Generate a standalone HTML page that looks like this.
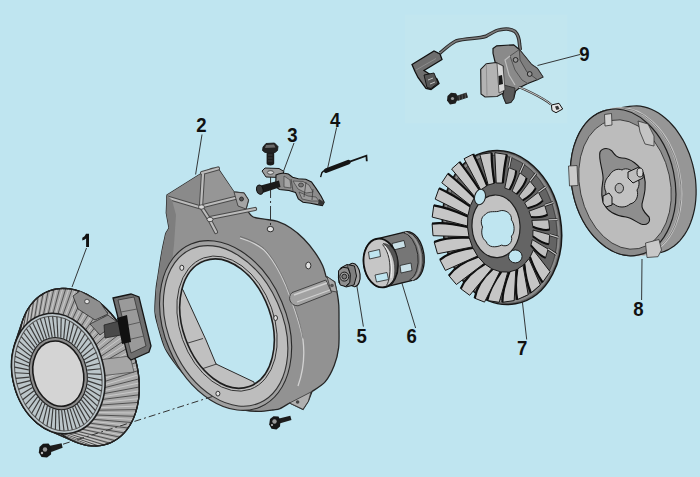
<!DOCTYPE html>
<html><head><meta charset="utf-8"><style>html,body{margin:0;padding:0;background:#bfe5f0;}svg{display:block;}</style></head>
<body>
<svg width="700" height="477" viewBox="0 0 700 477"><rect width="700" height="477" fill="#bfe5f0"/><rect x="405" y="14.5" width="162.5" height="109" fill="#c2e6ef"/>
<path d="M167 195 L202 173 L212 168.5 L218 168.5 L234 192 L244 193 L248.5 200 L246 209 C246.5 209.6 247.6 211.3 248.8 212.6 C250.0 213.9 250.6 215.9 253.2 217.0 C255.8 218.1 260.2 218.5 264.2 219.2 C268.2 219.9 273.0 219.9 277.4 221.4 C281.8 222.9 286.3 225.1 290.7 228.0 C295.1 230.9 299.9 234.9 303.9 239.0 C307.9 243.1 311.8 247.9 314.9 252.3 C318.0 256.7 320.8 261.5 322.6 265.5 C324.5 269.5 325.4 274.7 326.0 276.5 L334.7 282 L337 292 C337.3 294.2 338.5 299.5 338.8 305.0 C339.1 310.5 339.0 317.9 339.0 325.0 C339.0 332.1 339.4 341.0 338.6 347.8 C337.8 354.6 336.4 360.0 334.2 365.6 C332.0 371.2 329.0 377.4 325.3 381.7 C321.6 386.0 314.2 389.9 312.0 391.5 L308.3 401.3 L303 409.3 L289.6 403 C288.0 403.9 282.8 407.4 280.0 408.6 C277.2 409.8 276.5 409.5 272.9 410.0 C269.3 410.5 263.4 411.4 258.6 411.4 C253.8 411.4 249.1 410.9 244.3 410.0 C239.5 409.1 234.3 407.4 230.0 405.7 C225.7 404.0 222.2 401.9 218.6 400.0 C215.0 398.1 211.9 396.7 208.6 394.3 C205.3 391.9 202.2 388.6 198.6 385.7 C195.0 382.8 190.6 380.3 187.0 377.0 C183.4 373.7 180.7 370.8 177.0 366.0 C173.3 361.2 168.2 354.7 165.0 348.0 C161.8 341.3 159.7 332.0 158.0 326.0 C156.3 320.0 155.3 318.0 155.0 312.0 C154.7 306.0 155.5 296.0 156.0 290.0 C156.5 284.0 157.0 282.5 158.0 276.0 C159.0 269.5 160.7 258.1 162.0 251.0 C163.3 243.9 165.1 236.5 165.7 233.6 L169 228 L166.3 213 Z" fill="#929292" stroke="#262626" stroke-width="1.3"/>
<path d="M167 195 L202 173 L203.5 206 L198.4 207 L168 197.7 Z" fill="#8a8a8a"/>
<path d="M203.5 174 L218 168.5 L234 192 L236 197.7 L200 207 Z" fill="#969696"/>
<path d="M200 207 L236 197.7 L244 201 L246 209 L209 217 Z" fill="#8c8c8c"/>
<path d="M203 174 L201 206.5 L209.7 220 L216 232" fill="none" stroke="#4a4a4a" stroke-width="4.2" stroke-linejoin="round" stroke-linecap="round"/>
<path d="M168 197.7 L199 207" fill="none" stroke="#4a4a4a" stroke-width="4.2" stroke-linejoin="round" stroke-linecap="round"/>
<path d="M203 206 L236 197.7" fill="none" stroke="#4a4a4a" stroke-width="4.2" stroke-linejoin="round" stroke-linecap="round"/>
<path d="M210 218 L255 209" fill="none" stroke="#4a4a4a" stroke-width="4.2" stroke-linejoin="round" stroke-linecap="round"/>
<path d="M202 173 L218 168.5" fill="none" stroke="#4a4a4a" stroke-width="4.2" stroke-linejoin="round" stroke-linecap="round"/>
<path d="M203 174 L201 206.5 L209.7 220 L216 232" fill="none" stroke="#bcbcbc" stroke-width="2.2" stroke-linejoin="round" stroke-linecap="round"/>
<path d="M168 197.7 L199 207" fill="none" stroke="#bcbcbc" stroke-width="2.2" stroke-linejoin="round" stroke-linecap="round"/>
<path d="M203 206 L236 197.7" fill="none" stroke="#bcbcbc" stroke-width="2.2" stroke-linejoin="round" stroke-linecap="round"/>
<path d="M210 218 L255 209" fill="none" stroke="#bcbcbc" stroke-width="2.2" stroke-linejoin="round" stroke-linecap="round"/>
<path d="M202 173 L218 168.5" fill="none" stroke="#bcbcbc" stroke-width="2.2" stroke-linejoin="round" stroke-linecap="round"/>
<ellipse cx="201.5" cy="207" rx="3" ry="2.2" fill="#d8d8d8" stroke="#333" stroke-width="0.8"/>
<ellipse cx="210" cy="219.5" rx="3" ry="2.2" fill="#d8d8d8" stroke="#333" stroke-width="0.8"/>
<path d="M167 195 L166.3 213 L169 228 L165.7 233.6 L162 251 L158 276 L156 290 L155 312 L158 326 L165 348 L177 366 L183 372 L176 350 L170 320 L170 280 L174 245 L176 215 L172 200 Z" fill="#7e7e7e"/>
<path d="M234 192 L244 193 L248.5 200 L246 209 L238 206 Z" fill="#a4a4a4" stroke="#333" stroke-width="0.8"/>
<circle cx="241.5" cy="199" r="2" fill="#555" stroke="#222" stroke-width="0.8"/>
<path d="M240 238 C250 241 258 245 264 250 C272 258 280 272 286 286 C293 304 300 322 303 340 C305 356 303 372 298 386" fill="none" stroke="#d2d2d2" stroke-width="1.3"/>
<path d="M240 236.5 C250 239.5 258 243.5 264 248.5 C272 256.5 280 270.5 286 284.5 C293 302.5 300 320.5 303 338.5" fill="none" stroke="#555" stroke-width="0.6"/>
<ellipse cx="225.6" cy="325.5" rx="61.0" ry="88.5" transform="rotate(-23 225.6 325.5)" fill="#a0a0a0" stroke="#2a2a2a" stroke-width="1.1"/>
<ellipse cx="225.6" cy="325.9" rx="56.8" ry="84.2" transform="rotate(-24 225.6 325.9)" fill="#bdbdbd" stroke="#333" stroke-width="1.1"/>
<ellipse cx="227.0" cy="323.6" rx="47.2" ry="69.7" transform="rotate(-19.5 227.0 323.6)" fill="none" stroke="#333" stroke-width="0.9"/>
<clipPath id="op"><ellipse cx="227" cy="323.6" rx="44.2" ry="66.7" transform="rotate(-19.5 227 323.6)"/></clipPath>
<ellipse cx="227" cy="323.6" rx="44.2" ry="66.7" transform="rotate(-19.5 227 323.6)" fill="#bfe5f0"/>
<g clip-path="url(#op)"><path d="M150 250 L183 290 L206 340 L216 364 L254 382 L262 430 L150 430 Z" fill="#c0c0c0" stroke="#2a2a2a" stroke-width="1"/><path d="M188 343 L203 338.5 M202.5 368.7 L216.6 364" stroke="#333" stroke-width="0.9"/></g>
<ellipse cx="227" cy="323.6" rx="44.2" ry="66.7" transform="rotate(-19.5 227 323.6)" fill="none" stroke="#1e1e1e" stroke-width="1.6"/>
<ellipse cx="181.8" cy="267.8" rx="2" ry="2.6" fill="#e2e2e2" stroke="#222" stroke-width="0.9"/>
<ellipse cx="275.6" cy="318" rx="1.9" ry="2.5" fill="#e2e2e2" stroke="#222" stroke-width="0.9"/>
<ellipse cx="217.9" cy="393.6" rx="2" ry="2.4" fill="#e2e2e2" stroke="#222" stroke-width="0.9"/>
<ellipse cx="270.4" cy="229.1" rx="3.2" ry="2.7" fill="#e2e2e2" stroke="#222" stroke-width="0.9"/>
<ellipse cx="308.3" cy="265.5" rx="2.6" ry="3.4" fill="#e2e2e2" stroke="#222" stroke-width="0.9"/>
<path d="M292 292.6 L325.8 280 L331.7 292.6 L298 305.8 C290 306 287 297 292 292.6 Z" fill="#a2a2a2" stroke="#3a3a3a" stroke-width="0.9"/>
<path d="M294 295 L327 283" stroke="#d0d0d0" stroke-width="1.4"/>
<path d="M297 302 L330 290" stroke="#d0d0d0" stroke-width="1.2"/>
<path d="M327 276.5 L334.7 282 L337 292 L331 291 Z" fill="#a8a8a8" stroke="#333" stroke-width="0.8"/>
<circle cx="332" cy="285.5" r="1.8" fill="#555"/>
<path d="M289.6 403 L311 392 L308.3 401.3 L303 409.3 Z" fill="#b0b0b0" stroke="#333" stroke-width="0.8"/>
<circle cx="297.6" cy="402" r="1.8" fill="#444"/>
<path d="M11.6 363.8 L11.8 359.6 L12.2 355.6 L12.9 351.6 L13.8 347.8 L14.8 344.0 L22.7 320.3 L24.4 316.0 L26.3 311.9 L28.5 308.2 L31.0 304.7 L33.6 301.5 L36.5 298.6 L39.6 296.1 L43.0 293.9 L46.4 292.0 L50.0 290.6 L53.8 289.5 L57.7 288.8 L61.7 288.4 L65.8 288.5 L69.9 288.9 L74.1 289.7 L78.3 290.9 L82.5 292.5 L86.8 294.4 L90.9 296.7 L95.0 299.3 L99.0 302.3 L103.0 305.6 L106.8 309.1 L110.4 313.0 L113.9 317.1 L117.3 321.5 L120.4 326.1 L123.4 330.9 L126.1 335.8 L128.7 340.9 L130.9 346.2 L132.9 351.5 L134.7 357.0 L136.2 362.4 L137.4 367.9 L138.3 373.4 L138.9 378.9 L139.2 384.3 L139.3 389.6 L139.0 394.8 L138.5 399.9 L137.6 404.8 L136.5 409.6 L135.1 414.1 L133.4 418.4 L131.5 422.5 L129.3 426.2 L126.8 429.7 L124.2 432.9 L121.2 435.8 L118.2 438.3 L114.8 440.5 L111.4 442.4 L107.8 443.8 L104.0 444.9 L100.1 445.6 L96.1 446.0 L92.0 445.9 L87.9 445.5 L83.7 444.7 L79.5 443.5 L75.2 441.9 L48.9 430.4 L45.7 428.9 L42.6 427.1 L39.6 425.0 L36.6 422.7 L33.8 420.1 L31.1 417.3 L28.5 414.3 L26.1 411.1 L23.8 407.8 L21.7 404.2 L19.7 400.5 L18.0 396.7 L16.4 392.8 L15.1 388.8 L14.0 384.7 L13.0 380.5 L12.3 376.3 L11.9 372.1 L11.6 367.9 Z" fill="#a8a8a8" stroke="#222" stroke-width="1.3"/>
<line x1="102.6" y1="362.5" x2="130.9" y2="346.2" stroke="#3a3a3a" stroke-width="0.8"/>
<line x1="103.4" y1="365.7" x2="132.4" y2="350.2" stroke="#d0d0d0" stroke-width="0.8"/>
<line x1="103.9" y1="368.8" x2="133.8" y2="354.2" stroke="#3a3a3a" stroke-width="0.8"/>
<line x1="104.4" y1="371.9" x2="135.1" y2="358.3" stroke="#d0d0d0" stroke-width="0.8"/>
<line x1="104.7" y1="375.1" x2="136.2" y2="362.4" stroke="#3a3a3a" stroke-width="0.8"/>
<line x1="105.0" y1="378.2" x2="137.1" y2="366.6" stroke="#d0d0d0" stroke-width="0.8"/>
<line x1="105.0" y1="381.4" x2="137.8" y2="370.7" stroke="#3a3a3a" stroke-width="0.8"/>
<line x1="105.0" y1="384.5" x2="138.5" y2="374.8" stroke="#d0d0d0" stroke-width="0.8"/>
<line x1="104.8" y1="387.6" x2="138.9" y2="378.9" stroke="#3a3a3a" stroke-width="0.8"/>
<line x1="104.5" y1="390.6" x2="139.2" y2="382.9" stroke="#d0d0d0" stroke-width="0.8"/>
<line x1="104.1" y1="393.6" x2="139.3" y2="387.0" stroke="#3a3a3a" stroke-width="0.8"/>
<line x1="103.5" y1="396.6" x2="139.2" y2="390.9" stroke="#d0d0d0" stroke-width="0.8"/>
<line x1="102.8" y1="399.4" x2="139.0" y2="394.8" stroke="#3a3a3a" stroke-width="0.8"/>
<line x1="102.0" y1="402.3" x2="138.6" y2="398.7" stroke="#d0d0d0" stroke-width="0.8"/>
<line x1="101.1" y1="405.0" x2="138.1" y2="402.4" stroke="#3a3a3a" stroke-width="0.8"/>
<line x1="100.1" y1="407.6" x2="137.4" y2="406.0" stroke="#d0d0d0" stroke-width="0.8"/>
<line x1="98.9" y1="410.2" x2="136.5" y2="409.6" stroke="#3a3a3a" stroke-width="0.8"/>
<line x1="97.7" y1="412.6" x2="135.5" y2="413.0" stroke="#d0d0d0" stroke-width="0.8"/>
<line x1="96.3" y1="415.0" x2="134.3" y2="416.3" stroke="#3a3a3a" stroke-width="0.8"/>
<line x1="94.8" y1="417.2" x2="133.0" y2="419.4" stroke="#d0d0d0" stroke-width="0.8"/>
<line x1="93.3" y1="419.3" x2="131.5" y2="422.5" stroke="#3a3a3a" stroke-width="0.8"/>
<line x1="91.6" y1="421.3" x2="129.9" y2="425.3" stroke="#d0d0d0" stroke-width="0.8"/>
<line x1="89.8" y1="423.2" x2="128.1" y2="428.0" stroke="#3a3a3a" stroke-width="0.8"/>
<line x1="88.0" y1="424.9" x2="126.2" y2="430.6" stroke="#d0d0d0" stroke-width="0.8"/>
<line x1="86.0" y1="426.5" x2="124.2" y2="432.9" stroke="#3a3a3a" stroke-width="0.8"/>
<line x1="84.0" y1="427.9" x2="122.0" y2="435.1" stroke="#d0d0d0" stroke-width="0.8"/>
<line x1="82.0" y1="429.2" x2="119.7" y2="437.1" stroke="#3a3a3a" stroke-width="0.8"/>
<line x1="79.8" y1="430.3" x2="117.3" y2="438.9" stroke="#d0d0d0" stroke-width="0.8"/>
<line x1="77.6" y1="431.3" x2="114.8" y2="440.5" stroke="#3a3a3a" stroke-width="0.8"/>
<line x1="75.4" y1="432.1" x2="112.3" y2="441.9" stroke="#d0d0d0" stroke-width="0.8"/>
<line x1="73.1" y1="432.8" x2="109.6" y2="443.1" stroke="#3a3a3a" stroke-width="0.8"/>
<line x1="70.7" y1="433.3" x2="106.8" y2="444.1" stroke="#d0d0d0" stroke-width="0.8"/>
<line x1="68.3" y1="433.6" x2="104.0" y2="444.9" stroke="#3a3a3a" stroke-width="0.8"/>
<line x1="65.9" y1="433.8" x2="101.1" y2="445.5" stroke="#d0d0d0" stroke-width="0.8"/>
<line x1="63.5" y1="433.8" x2="98.1" y2="445.8" stroke="#3a3a3a" stroke-width="0.8"/>
<line x1="61.1" y1="433.6" x2="95.1" y2="446.0" stroke="#d0d0d0" stroke-width="0.8"/>
<line x1="58.6" y1="433.3" x2="92.0" y2="445.9" stroke="#3a3a3a" stroke-width="0.8"/>
<line x1="56.2" y1="432.8" x2="88.9" y2="445.6" stroke="#d0d0d0" stroke-width="0.8"/>
<line x1="53.7" y1="432.2" x2="85.8" y2="445.1" stroke="#3a3a3a" stroke-width="0.8"/>
<line x1="51.3" y1="431.4" x2="82.6" y2="444.4" stroke="#d0d0d0" stroke-width="0.8"/>
<line x1="48.9" y1="430.4" x2="79.5" y2="443.5" stroke="#3a3a3a" stroke-width="0.8"/>
<line x1="46.5" y1="429.3" x2="76.3" y2="442.3" stroke="#d0d0d0" stroke-width="0.8"/>
<line x1="44.2" y1="428.0" x2="73.1" y2="441.0" stroke="#3a3a3a" stroke-width="0.8"/>
<line x1="41.9" y1="426.6" x2="70.0" y2="439.4" stroke="#d0d0d0" stroke-width="0.8"/>
<line x1="39.6" y1="425.0" x2="66.9" y2="437.7" stroke="#3a3a3a" stroke-width="0.8"/>
<line x1="37.4" y1="423.3" x2="63.8" y2="435.8" stroke="#d0d0d0" stroke-width="0.8"/>
<line x1="35.2" y1="421.4" x2="60.8" y2="433.6" stroke="#3a3a3a" stroke-width="0.8"/>
<line x1="33.1" y1="419.4" x2="57.8" y2="431.3" stroke="#d0d0d0" stroke-width="0.8"/>
<line x1="31.1" y1="417.3" x2="54.9" y2="428.8" stroke="#3a3a3a" stroke-width="0.8"/>
<line x1="29.1" y1="415.1" x2="52.0" y2="426.2" stroke="#d0d0d0" stroke-width="0.8"/>
<line x1="27.3" y1="412.8" x2="49.2" y2="423.4" stroke="#3a3a3a" stroke-width="0.8"/>
<line x1="25.5" y1="410.3" x2="46.5" y2="420.4" stroke="#d0d0d0" stroke-width="0.8"/>
<line x1="23.8" y1="407.8" x2="43.9" y2="417.3" stroke="#3a3a3a" stroke-width="0.8"/>
<line x1="22.2" y1="405.1" x2="41.3" y2="414.0" stroke="#d0d0d0" stroke-width="0.8"/>
<line x1="20.7" y1="402.4" x2="38.9" y2="410.7" stroke="#3a3a3a" stroke-width="0.8"/>
<line x1="19.3" y1="399.6" x2="36.6" y2="407.2" stroke="#d0d0d0" stroke-width="0.8"/>
<line x1="18.0" y1="396.7" x2="34.4" y2="403.5" stroke="#3a3a3a" stroke-width="0.8"/>
<line x1="16.8" y1="393.8" x2="32.3" y2="399.8" stroke="#d0d0d0" stroke-width="0.8"/>
<line x1="15.7" y1="390.8" x2="30.4" y2="396.0" stroke="#3a3a3a" stroke-width="0.8"/>
<line x1="14.8" y1="387.7" x2="28.6" y2="392.2" stroke="#d0d0d0" stroke-width="0.8"/>
<line x1="14.0" y1="384.7" x2="26.9" y2="388.2" stroke="#3a3a3a" stroke-width="0.8"/>
<line x1="13.2" y1="381.5" x2="25.4" y2="384.2" stroke="#d0d0d0" stroke-width="0.8"/>
<line x1="12.7" y1="378.4" x2="24.0" y2="380.2" stroke="#3a3a3a" stroke-width="0.8"/>
<line x1="12.2" y1="375.3" x2="22.7" y2="376.1" stroke="#d0d0d0" stroke-width="0.8"/>
<line x1="11.9" y1="372.1" x2="21.6" y2="372.0" stroke="#3a3a3a" stroke-width="0.8"/>
<line x1="11.6" y1="369.0" x2="20.7" y2="367.8" stroke="#d0d0d0" stroke-width="0.8"/>
<line x1="11.6" y1="365.8" x2="20.0" y2="363.7" stroke="#3a3a3a" stroke-width="0.8"/>
<line x1="11.6" y1="362.7" x2="19.3" y2="359.6" stroke="#d0d0d0" stroke-width="0.8"/>
<line x1="11.8" y1="359.6" x2="18.9" y2="355.5" stroke="#3a3a3a" stroke-width="0.8"/>
<line x1="12.1" y1="356.6" x2="18.6" y2="351.5" stroke="#d0d0d0" stroke-width="0.8"/>
<line x1="12.5" y1="353.6" x2="18.5" y2="347.4" stroke="#3a3a3a" stroke-width="0.8"/>
<line x1="13.1" y1="350.6" x2="18.6" y2="343.5" stroke="#d0d0d0" stroke-width="0.8"/>
<line x1="13.8" y1="347.8" x2="18.8" y2="339.6" stroke="#3a3a3a" stroke-width="0.8"/>
<line x1="14.6" y1="344.9" x2="19.2" y2="335.7" stroke="#d0d0d0" stroke-width="0.8"/>
<line x1="15.5" y1="342.2" x2="19.7" y2="332.0" stroke="#3a3a3a" stroke-width="0.8"/>
<line x1="16.5" y1="339.6" x2="20.4" y2="328.4" stroke="#d0d0d0" stroke-width="0.8"/>
<line x1="17.7" y1="337.0" x2="21.3" y2="324.8" stroke="#3a3a3a" stroke-width="0.8"/>
<line x1="18.9" y1="334.6" x2="22.3" y2="321.4" stroke="#d0d0d0" stroke-width="0.8"/>
<line x1="20.3" y1="332.2" x2="23.5" y2="318.1" stroke="#3a3a3a" stroke-width="0.8"/>
<line x1="21.8" y1="330.0" x2="24.8" y2="315.0" stroke="#d0d0d0" stroke-width="0.8"/>
<line x1="23.3" y1="327.9" x2="26.3" y2="311.9" stroke="#3a3a3a" stroke-width="0.8"/>
<line x1="25.0" y1="325.9" x2="27.9" y2="309.1" stroke="#d0d0d0" stroke-width="0.8"/>
<line x1="26.8" y1="324.0" x2="29.7" y2="306.4" stroke="#3a3a3a" stroke-width="0.8"/>
<line x1="28.6" y1="322.3" x2="31.6" y2="303.8" stroke="#d0d0d0" stroke-width="0.8"/>
<line x1="30.6" y1="320.7" x2="33.6" y2="301.5" stroke="#3a3a3a" stroke-width="0.8"/>
<line x1="32.6" y1="319.3" x2="35.8" y2="299.3" stroke="#d0d0d0" stroke-width="0.8"/>
<line x1="34.6" y1="318.0" x2="38.1" y2="297.3" stroke="#3a3a3a" stroke-width="0.8"/>
<line x1="36.8" y1="316.9" x2="40.5" y2="295.5" stroke="#d0d0d0" stroke-width="0.8"/>
<line x1="39.0" y1="315.9" x2="43.0" y2="293.9" stroke="#3a3a3a" stroke-width="0.8"/>
<line x1="41.2" y1="315.1" x2="45.5" y2="292.5" stroke="#d0d0d0" stroke-width="0.8"/>
<line x1="43.5" y1="314.4" x2="48.2" y2="291.3" stroke="#3a3a3a" stroke-width="0.8"/>
<line x1="45.9" y1="313.9" x2="51.0" y2="290.3" stroke="#d0d0d0" stroke-width="0.8"/>
<line x1="48.3" y1="313.6" x2="53.8" y2="289.5" stroke="#3a3a3a" stroke-width="0.8"/>
<line x1="50.7" y1="313.4" x2="56.7" y2="288.9" stroke="#d0d0d0" stroke-width="0.8"/>
<line x1="53.1" y1="313.4" x2="59.7" y2="288.6" stroke="#3a3a3a" stroke-width="0.8"/>
<line x1="55.5" y1="313.6" x2="62.7" y2="288.4" stroke="#d0d0d0" stroke-width="0.8"/>
<line x1="58.0" y1="313.9" x2="65.8" y2="288.5" stroke="#3a3a3a" stroke-width="0.8"/>
<line x1="60.4" y1="314.4" x2="68.9" y2="288.8" stroke="#d0d0d0" stroke-width="0.8"/>
<line x1="62.9" y1="315.0" x2="72.0" y2="289.3" stroke="#3a3a3a" stroke-width="0.8"/>
<line x1="65.3" y1="315.8" x2="75.2" y2="290.0" stroke="#d0d0d0" stroke-width="0.8"/>
<line x1="67.7" y1="316.8" x2="78.3" y2="290.9" stroke="#3a3a3a" stroke-width="0.8"/>
<line x1="70.1" y1="317.9" x2="81.5" y2="292.1" stroke="#d0d0d0" stroke-width="0.8"/>
<line x1="72.4" y1="319.2" x2="84.7" y2="293.4" stroke="#3a3a3a" stroke-width="0.8"/>
<line x1="74.7" y1="320.6" x2="87.8" y2="295.0" stroke="#d0d0d0" stroke-width="0.8"/>
<line x1="77.0" y1="322.2" x2="90.9" y2="296.7" stroke="#3a3a3a" stroke-width="0.8"/>
<line x1="79.2" y1="323.9" x2="94.0" y2="298.6" stroke="#d0d0d0" stroke-width="0.8"/>
<line x1="81.4" y1="325.8" x2="97.0" y2="300.8" stroke="#3a3a3a" stroke-width="0.8"/>
<line x1="83.5" y1="327.8" x2="100.0" y2="303.1" stroke="#d0d0d0" stroke-width="0.8"/>
<line x1="85.5" y1="329.9" x2="102.9" y2="305.6" stroke="#3a3a3a" stroke-width="0.8"/>
<line x1="87.5" y1="332.1" x2="105.8" y2="308.2" stroke="#d0d0d0" stroke-width="0.8"/>
<line x1="89.3" y1="334.4" x2="108.6" y2="311.0" stroke="#3a3a3a" stroke-width="0.8"/>
<line x1="91.1" y1="336.9" x2="111.3" y2="314.0" stroke="#d0d0d0" stroke-width="0.8"/>
<line x1="92.8" y1="339.4" x2="113.9" y2="317.1" stroke="#3a3a3a" stroke-width="0.8"/>
<line x1="94.4" y1="342.1" x2="116.5" y2="320.4" stroke="#d0d0d0" stroke-width="0.8"/>
<line x1="95.9" y1="344.8" x2="118.9" y2="323.7" stroke="#3a3a3a" stroke-width="0.8"/>
<line x1="97.3" y1="347.6" x2="121.2" y2="327.2" stroke="#d0d0d0" stroke-width="0.8"/>
<line x1="98.6" y1="350.5" x2="123.4" y2="330.9" stroke="#3a3a3a" stroke-width="0.8"/>
<line x1="99.8" y1="353.4" x2="125.5" y2="334.6" stroke="#d0d0d0" stroke-width="0.8"/>
<line x1="100.9" y1="356.4" x2="127.4" y2="338.4" stroke="#3a3a3a" stroke-width="0.8"/>
<line x1="101.8" y1="359.5" x2="129.2" y2="342.2" stroke="#d0d0d0" stroke-width="0.8"/>
<ellipse cx="78.9" cy="367.2" rx="56.1" ry="81.9" transform="rotate(-22 78.9 367.2)" fill="none" stroke="#222" stroke-width="1.2"/>
<path d="M11.6 363.8 L11.8 359.6 L12.2 355.6 L12.9 351.6 L13.8 347.8 L14.8 344.0 L22.7 320.3 L24.4 316.0 L26.3 311.9 L28.5 308.2 L31.0 304.7 L33.6 301.5 L36.5 298.6 L39.6 296.1 L43.0 293.9 L46.4 292.0 L50.0 290.6 L53.8 289.5 L57.7 288.8 L61.7 288.4 L65.8 288.5 L69.9 288.9 L74.1 289.7 L78.3 290.9 L82.5 292.5 L86.8 294.4 L90.9 296.7 L95.0 299.3 L99.0 302.3 L103.0 305.6 L106.8 309.1 L110.4 313.0 L113.9 317.1 L117.3 321.5 L120.4 326.1 L123.4 330.9 L126.1 335.8 L128.7 340.9 L130.9 346.2 L132.9 351.5 L134.7 357.0 L136.2 362.4 L137.4 367.9 L138.3 373.4 L138.9 378.9 L139.2 384.3 L139.3 389.6 L139.0 394.8 L138.5 399.9 L137.6 404.8 L136.5 409.6 L135.1 414.1 L133.4 418.4 L131.5 422.5 L129.3 426.2 L126.8 429.7 L124.2 432.9 L121.2 435.8 L118.2 438.3 L114.8 440.5 L111.4 442.4 L107.8 443.8 L104.0 444.9 L100.1 445.6 L96.1 446.0 L92.0 445.9 L87.9 445.5 L83.7 444.7 L79.5 443.5 L75.2 441.9 L48.9 430.4 L45.7 428.9 L42.6 427.1 L39.6 425.0 L36.6 422.7 L33.8 420.1 L31.1 417.3 L28.5 414.3 L26.1 411.1 L23.8 407.8 L21.7 404.2 L19.7 400.5 L18.0 396.7 L16.4 392.8 L15.1 388.8 L14.0 384.7 L13.0 380.5 L12.3 376.3 L11.9 372.1 L11.6 367.9 Z" fill="none" stroke="#222" stroke-width="1.3"/>
<path d="M73 296 L80 291 L100 302 L108 314 L95 320 L78 309 Z" fill="#8e8e8e" stroke="#2a2a2a" stroke-width="0.8"/>
<circle cx="87" cy="301.5" r="2.3" fill="#e0e0e0" stroke="#222" stroke-width="0.7"/>
<path d="M90 324 L108 315 L117 322 L100 335 Z" fill="#8a8a8a" stroke="#2a2a2a" stroke-width="0.8"/>
<path d="M98 360 L130 356 L134 372 L100 376 Z" fill="#a6a6a6" stroke="#333" stroke-width="0.6"/>
<ellipse cx="58.3" cy="373.6" rx="45.7" ry="61.0" transform="rotate(-14 58.3 373.6)" fill="#bcc6ca" stroke="#1e1e1e" stroke-width="1.6"/>
<ellipse cx="58.3" cy="373.6" rx="42.7" ry="58.0" transform="rotate(-14 58.3 373.6)" fill="none" stroke="#555" stroke-width="1"/>
<line x1="86.4" y1="366.6" x2="99.7" y2="363.3" stroke="#3a3a3a" stroke-width="1.15"/>
<line x1="87.2" y1="370.1" x2="100.9" y2="368.8" stroke="#3a3a3a" stroke-width="1.15"/>
<line x1="87.6" y1="373.7" x2="101.7" y2="374.4" stroke="#3a3a3a" stroke-width="1.15"/>
<line x1="87.8" y1="377.3" x2="102.0" y2="380.1" stroke="#3a3a3a" stroke-width="1.15"/>
<line x1="87.7" y1="380.9" x2="101.9" y2="385.6" stroke="#3a3a3a" stroke-width="1.15"/>
<line x1="87.3" y1="384.3" x2="101.5" y2="391.0" stroke="#3a3a3a" stroke-width="1.15"/>
<line x1="86.7" y1="387.7" x2="100.5" y2="396.3" stroke="#3a3a3a" stroke-width="1.15"/>
<line x1="85.7" y1="391.0" x2="99.2" y2="401.3" stroke="#3a3a3a" stroke-width="1.15"/>
<line x1="84.5" y1="394.0" x2="97.5" y2="406.1" stroke="#3a3a3a" stroke-width="1.15"/>
<line x1="83.1" y1="396.9" x2="95.4" y2="410.5" stroke="#3a3a3a" stroke-width="1.15"/>
<line x1="81.4" y1="399.6" x2="93.0" y2="414.7" stroke="#3a3a3a" stroke-width="1.15"/>
<line x1="79.5" y1="402.0" x2="90.2" y2="418.4" stroke="#3a3a3a" stroke-width="1.15"/>
<line x1="77.3" y1="404.1" x2="87.1" y2="421.6" stroke="#3a3a3a" stroke-width="1.15"/>
<line x1="75.0" y1="405.9" x2="83.8" y2="424.5" stroke="#3a3a3a" stroke-width="1.15"/>
<line x1="72.6" y1="407.4" x2="80.1" y2="426.8" stroke="#3a3a3a" stroke-width="1.15"/>
<line x1="70.0" y1="408.6" x2="76.3" y2="428.6" stroke="#3a3a3a" stroke-width="1.15"/>
<line x1="67.3" y1="409.5" x2="72.3" y2="429.9" stroke="#3a3a3a" stroke-width="1.15"/>
<line x1="64.4" y1="410.0" x2="68.2" y2="430.6" stroke="#3a3a3a" stroke-width="1.15"/>
<line x1="61.6" y1="410.2" x2="64.0" y2="430.8" stroke="#3a3a3a" stroke-width="1.15"/>
<line x1="58.7" y1="410.0" x2="59.7" y2="430.5" stroke="#3a3a3a" stroke-width="1.15"/>
<line x1="55.8" y1="409.5" x2="55.4" y2="429.5" stroke="#3a3a3a" stroke-width="1.15"/>
<line x1="52.9" y1="408.6" x2="51.1" y2="428.1" stroke="#3a3a3a" stroke-width="1.15"/>
<line x1="50.1" y1="407.3" x2="46.9" y2="426.1" stroke="#3a3a3a" stroke-width="1.15"/>
<line x1="47.4" y1="405.8" x2="42.9" y2="423.7" stroke="#3a3a3a" stroke-width="1.15"/>
<line x1="44.7" y1="403.9" x2="38.9" y2="420.7" stroke="#3a3a3a" stroke-width="1.15"/>
<line x1="42.2" y1="401.8" x2="35.2" y2="417.3" stroke="#3a3a3a" stroke-width="1.15"/>
<line x1="39.9" y1="399.4" x2="31.6" y2="413.5" stroke="#3a3a3a" stroke-width="1.15"/>
<line x1="37.7" y1="396.7" x2="28.4" y2="409.2" stroke="#3a3a3a" stroke-width="1.15"/>
<line x1="35.7" y1="393.8" x2="25.4" y2="404.7" stroke="#3a3a3a" stroke-width="1.15"/>
<line x1="34.0" y1="390.7" x2="22.7" y2="399.8" stroke="#3a3a3a" stroke-width="1.15"/>
<line x1="32.4" y1="387.5" x2="20.4" y2="394.7" stroke="#3a3a3a" stroke-width="1.15"/>
<line x1="31.2" y1="384.1" x2="18.4" y2="389.4" stroke="#3a3a3a" stroke-width="1.15"/>
<line x1="30.2" y1="380.6" x2="16.9" y2="383.9" stroke="#3a3a3a" stroke-width="1.15"/>
<line x1="29.4" y1="377.1" x2="15.7" y2="378.4" stroke="#3a3a3a" stroke-width="1.15"/>
<line x1="29.0" y1="373.5" x2="14.9" y2="372.8" stroke="#3a3a3a" stroke-width="1.15"/>
<line x1="28.8" y1="369.9" x2="14.6" y2="367.1" stroke="#3a3a3a" stroke-width="1.15"/>
<line x1="28.9" y1="366.3" x2="14.7" y2="361.6" stroke="#3a3a3a" stroke-width="1.15"/>
<line x1="29.3" y1="362.9" x2="15.1" y2="356.2" stroke="#3a3a3a" stroke-width="1.15"/>
<line x1="29.9" y1="359.5" x2="16.1" y2="350.9" stroke="#3a3a3a" stroke-width="1.15"/>
<line x1="30.9" y1="356.2" x2="17.4" y2="345.9" stroke="#3a3a3a" stroke-width="1.15"/>
<line x1="32.1" y1="353.2" x2="19.1" y2="341.1" stroke="#3a3a3a" stroke-width="1.15"/>
<line x1="33.5" y1="350.3" x2="21.2" y2="336.7" stroke="#3a3a3a" stroke-width="1.15"/>
<line x1="35.2" y1="347.6" x2="23.6" y2="332.5" stroke="#3a3a3a" stroke-width="1.15"/>
<line x1="37.1" y1="345.2" x2="26.4" y2="328.8" stroke="#3a3a3a" stroke-width="1.15"/>
<line x1="39.3" y1="343.1" x2="29.5" y2="325.6" stroke="#3a3a3a" stroke-width="1.15"/>
<line x1="41.6" y1="341.3" x2="32.8" y2="322.7" stroke="#3a3a3a" stroke-width="1.15"/>
<line x1="44.0" y1="339.8" x2="36.5" y2="320.4" stroke="#3a3a3a" stroke-width="1.15"/>
<line x1="46.6" y1="338.6" x2="40.3" y2="318.6" stroke="#3a3a3a" stroke-width="1.15"/>
<line x1="49.3" y1="337.7" x2="44.3" y2="317.3" stroke="#3a3a3a" stroke-width="1.15"/>
<line x1="52.2" y1="337.2" x2="48.4" y2="316.6" stroke="#3a3a3a" stroke-width="1.15"/>
<line x1="55.0" y1="337.0" x2="52.6" y2="316.4" stroke="#3a3a3a" stroke-width="1.15"/>
<line x1="57.9" y1="337.2" x2="56.9" y2="316.7" stroke="#3a3a3a" stroke-width="1.15"/>
<line x1="60.8" y1="337.7" x2="61.2" y2="317.7" stroke="#3a3a3a" stroke-width="1.15"/>
<line x1="63.7" y1="338.6" x2="65.5" y2="319.1" stroke="#3a3a3a" stroke-width="1.15"/>
<line x1="66.5" y1="339.9" x2="69.7" y2="321.1" stroke="#3a3a3a" stroke-width="1.15"/>
<line x1="69.2" y1="341.4" x2="73.7" y2="323.5" stroke="#3a3a3a" stroke-width="1.15"/>
<line x1="71.9" y1="343.3" x2="77.7" y2="326.5" stroke="#3a3a3a" stroke-width="1.15"/>
<line x1="74.4" y1="345.4" x2="81.4" y2="329.9" stroke="#3a3a3a" stroke-width="1.15"/>
<line x1="76.7" y1="347.8" x2="85.0" y2="333.7" stroke="#3a3a3a" stroke-width="1.15"/>
<line x1="78.9" y1="350.5" x2="88.2" y2="338.0" stroke="#3a3a3a" stroke-width="1.15"/>
<line x1="80.9" y1="353.4" x2="91.2" y2="342.5" stroke="#3a3a3a" stroke-width="1.15"/>
<line x1="82.6" y1="356.5" x2="93.9" y2="347.4" stroke="#3a3a3a" stroke-width="1.15"/>
<line x1="84.2" y1="359.7" x2="96.2" y2="352.5" stroke="#3a3a3a" stroke-width="1.15"/>
<line x1="85.4" y1="363.1" x2="98.2" y2="357.8" stroke="#3a3a3a" stroke-width="1.15"/>
<ellipse cx="58.3" cy="373.6" rx="28.5" ry="36.5" transform="rotate(-14 58.3 373.6)" fill="#8c8c8c" stroke="#222" stroke-width="1.1"/>
<ellipse cx="58.3" cy="373.6" rx="25.0" ry="33.0" transform="rotate(-14 58.3 373.6)" fill="#d4d4d4" stroke="#1a1a1a" stroke-width="1.6"/>
<path d="M104 325 L119 321 L121 335 L105 338 Z" fill="#4a4a4a" stroke="#222" stroke-width="0.8"/>
<path d="M113 298 L131 294 L139 297 L151 346 L149 352 L131 360 L128 357 Z" fill="#6e6e6e" stroke="#161616" stroke-width="1.3"/>
<path d="M118 300 L134 297 L146 346 L131 353 Z" fill="#9a9a9a" stroke="#333" stroke-width="0.8"/>
<path d="M121 312 L137 309 M124 326 L141 322 M127 340 L144 336" stroke="#555" stroke-width="0.9"/>
<path d="M117 318 L127 315 L131 342 L122 344 Z" fill="#111"/>
<line x1="270.6" y1="168" x2="270.5" y2="226" stroke="#222" stroke-width="0.9" stroke-dasharray="30 3 2 3 14 3 2 3"/>
<path d="M263 147 L266 143.5 L274.5 143 L278 146.5 L277.5 150.5 L275 152.5 L265 152.5 L262.5 150.5 Z" fill="#222" stroke="#111" stroke-width="0.8"/>
<path d="M266 145 L274 144.5 L275.5 147.5 L265 148 Z" fill="#6a6a6a"/>
<path d="M266.6 152.3 L274.2 152.3 L274.2 163.5 C274.2 166 266.6 166 266.6 163.5 Z" fill="#1c1c1c"/>
<path d="M268 155 L272.5 155 M268 158 L272.5 158 M268 161 L272.5 161" stroke="#555" stroke-width="0.6"/>
<path d="M262 171 L265 168 L279 168.5 L284 171.5 L281 177.5 L266 177 Z" fill="#9c9c9c" stroke="#1a1a1a" stroke-width="1"/>
<ellipse cx="270.5" cy="172.5" rx="3.2" ry="1.8" fill="#d8d8d8" stroke="#222" stroke-width="0.7"/>
<path d="M276 175 L278.5 174 L283.2 173 L288.4 174 L292.6 177.3 L298.3 178.7 L305.8 179.2 L311.5 182 L316.2 188.6 L321 196 L324.2 202.3 L322.4 205.6 L317.2 204.6 L310.6 203.2 L303 202.3 L298.3 199 L295.5 192.4 L288.9 190.5 L279.4 189.5 L275.7 186.7 Z" fill="#8c8c8c" stroke="#141414" stroke-width="1.1"/>
<path d="M284 176 L290 180 L291 188 L284 187 Z" fill="#a6a6a6" stroke="#333" stroke-width="0.6"/>
<path d="M293 181 L303 181.5 L309 185 L313 192 L306 193 L298 189 Z" fill="#a2a2a2" stroke="#333" stroke-width="0.6"/>
<path d="M299 192 L308 196 L316 197 L319 201 L311 201 L302 199 Z" fill="#9a9a9a" stroke="#333" stroke-width="0.6"/>
<path d="M291 179 L293 191 M306 182 L304 197 M313 189 L312 200" stroke="#333" stroke-width="0.7"/>
<ellipse cx="301" cy="185" rx="2.5" ry="2" fill="#777" stroke="#222" stroke-width="0.6"/>
<path d="M319 199 L324.2 202.3 L322.4 205.6 L318 204.5 Z" fill="#333"/>
<path d="M259 186 L279 180.5 L280.5 187 L261 193.5 Z" fill="#1a1a1a"/>
<ellipse cx="259.8" cy="189.7" rx="3.2" ry="4.7" transform="rotate(-15 259.8 189.7)" fill="#3a3a3a" stroke="#0e0e0e" stroke-width="1"/>
<path d="M320.6 177.1 L321.9 172.6 C322.8 171 324 170.6 326 170.3" fill="none" stroke="#111" stroke-width="1.4"/>
<path d="M326.1 170.6 L348.4 162.1" stroke="#151515" stroke-width="4.6" stroke-linecap="round"/>
<path d="M348.4 162.1 L366.4 155.7 L366.8 161.3" fill="none" stroke="#151515" stroke-width="1.8"/>
<ellipse cx="353.5" cy="275" rx="6.6" ry="11.8" transform="rotate(-6 353.5 275)" fill="#a3a3a3" stroke="#111" stroke-width="1.1"/>
<path d="M340.5 268 L347 264.5 L354.5 266 L356.5 276 L354 285 L346 287 L339 283 L338.5 274 Z" fill="#7f7f7f" stroke="#111" stroke-width="1"/>
<path d="M347 264.5 L350 273 L349 284 L346 287" fill="none" stroke="#333" stroke-width="0.8"/>
<path d="M338.6 270.5 L343 267.3 L348 268 L350.3 274.5 L349.8 282.5 L345.5 286.5 L340.2 285 L338.4 278 Z" fill="#8e8e8e" stroke="#111" stroke-width="1"/>
<circle cx="344.3" cy="276.6" r="4.5" fill="#9c9c9c" stroke="#1a1a1a" stroke-width="1"/>
<circle cx="344.3" cy="276.6" r="2.4" fill="#7a7a7a" stroke="#1a1a1a" stroke-width="0.9"/>
<path d="M363.5 260.3 L363.6 258.6 L363.7 256.9 L363.9 255.3 L364.2 253.7 L364.6 252.2 L365.1 250.7 L365.6 249.2 L366.2 247.8 L366.9 246.6 L367.6 245.3 L368.5 244.2 L369.3 243.2 L370.3 242.2 L371.2 241.4 L372.2 240.7 L373.3 240.0 L374.4 239.5 L375.6 239.1 L376.7 238.8 L405.6 231.8 L406.6 231.7 L407.6 231.7 L408.6 231.8 L409.7 232.0 L410.7 232.3 L411.7 232.8 L412.7 233.3 L413.7 234.0 L414.7 234.8 L415.6 235.6 L416.6 236.6 L417.5 237.7 L418.3 238.9 L419.1 240.1 L419.9 241.4 L420.6 242.8 L421.2 244.3 L421.8 245.8 L422.4 247.4 L422.8 249.0 L423.2 250.6 L423.6 252.3 L423.9 254.0 L424.1 255.7 L424.2 257.4 L424.2 259.1 L424.2 260.8 L424.2 262.4 L424.0 264.0 L423.8 265.6 L423.5 267.1 L423.1 268.6 L422.7 270.1 L422.2 271.4 L421.6 272.7 L421.0 273.9 L420.4 275.0 L419.6 276.0 L418.9 276.9 L418.0 277.7 L417.2 278.4 L416.3 279.1 L415.4 279.5 L414.4 279.9 L413.4 280.2 L384.7 287.2 L383.5 287.3 L382.3 287.4 L381.1 287.3 L379.9 287.1 L378.7 286.8 L377.6 286.4 L376.4 285.8 L375.2 285.2 L374.1 284.4 L373.0 283.6 L372.0 282.6 L371.0 281.6 L370.0 280.4 L369.1 279.2 L368.2 277.9 L367.4 276.5 L366.7 275.0 L366.1 273.5 L365.5 272.0 L364.9 270.4 L364.5 268.7 L364.1 267.1 L363.9 265.4 L363.7 263.7 L363.6 262.0 Z" fill="#767676" stroke="#161616" stroke-width="1.3"/>
<path d="M402.6 232.3 A 14.5 24.5 -8 0 1 409.4 280.0" fill="none" stroke="#2a2a2a" stroke-width="1.0"/>
<path d="M405.1 232.3 A 14.5 24.5 -8 0 1 411.9 280.0" fill="none" stroke="#9a9a9a" stroke-width="1.6"/>
<path d="M407.6 232.3 A 14.5 24.5 -8 0 1 414.4 280.0" fill="none" stroke="#2a2a2a" stroke-width="1.0"/>
<path d="M392 243.5 L404 240.5 L405.5 247 L393.5 250 Z" fill="#c9dfe6" stroke="#222" stroke-width="0.8"/>
<path d="M400 265.5 L411 263 L412 270.5 L401 273 Z" fill="#c9dfe6" stroke="#222" stroke-width="0.8"/>
<ellipse cx="380.7" cy="263.0" rx="17.0" ry="24.5" transform="rotate(-8 380.7 263.0)" fill="#c6c6c6" stroke="#111" stroke-width="1.8"/>
<path d="M383 243.5 C392 250 396 262 394.5 275 C393.5 281 392 284 390 286 C395 280 397.5 270 397.5 262 C397 252 392 244 383 243.5 Z" fill="#555" stroke="#222" stroke-width="0.6"/>
<path d="M382.5 244.5 C389 252 391 264 389.5 276 C389 280 388 283 386.5 285.5" fill="none" stroke="#222" stroke-width="0.9"/>
<path d="M385 246 C391 254 392.5 266 391 278" fill="none" stroke="#eee" stroke-width="1"/>
<path d="M368.5 252 L379.5 249.5 L380.5 256.5 L369.5 259 Z" fill="#bfe5f0" stroke="#222" stroke-width="0.8"/>
<path d="M375 275 L387 272.5 L388.5 279.5 L376.5 282 Z" fill="#bfe5f0" stroke="#222" stroke-width="0.8"/>
<ellipse cx="502.0" cy="227.5" rx="59.0" ry="77.5" transform="rotate(-10 502.0 227.5)" fill="#646464" stroke="#161616" stroke-width="1.5"/>
<ellipse cx="502.0" cy="227.5" rx="56.0" ry="74.5" transform="rotate(-10 502.0 227.5)" fill="none" stroke="#8a8a8a" stroke-width="2.2"/>
<ellipse cx="502.0" cy="227.5" rx="54.5" ry="73.0" transform="rotate(-10 502.0 227.5)" fill="none" stroke="#3a3a3a" stroke-width="0.7"/>
<path d="M531.9 220.4 L548.6 219.8 L549.6 229.5 Q543.7 231.1 532.8 226.7 Z" fill="#c0c0c0" stroke="#161616" stroke-width="0.9"/>
<path d="M532.8 226.7 Q543.7 231.1 549.6 229.5" fill="none" stroke="#0e0e0e" stroke-width="2"/>
<line x1="548.6" y1="219.8" x2="557.5" y2="219.7" stroke="#1a1a1a" stroke-width="2.6"/>
<line x1="548.6" y1="219.8" x2="557.5" y2="219.7" stroke="#c8c8c8" stroke-width="1.2"/>
<path d="M533.0 230.1 L549.7 234.7 L548.9 244.2 Q542.8 243.9 532.8 236.3 Z" fill="#c0c0c0" stroke="#161616" stroke-width="0.9"/>
<path d="M532.8 236.3 Q542.8 243.9 548.9 244.2" fill="none" stroke="#0e0e0e" stroke-width="2"/>
<line x1="549.7" y1="234.7" x2="558.6" y2="237.3" stroke="#1a1a1a" stroke-width="2.6"/>
<line x1="549.7" y1="234.7" x2="558.6" y2="237.3" stroke="#c8c8c8" stroke-width="1.2"/>
<path d="M532.3 239.6 L548.1 249.1 L545.5 257.9 Q539.5 255.7 530.9 245.4 Z" fill="#c0c0c0" stroke="#161616" stroke-width="0.9"/>
<path d="M530.9 245.4 Q539.5 255.7 545.5 257.9" fill="none" stroke="#0e0e0e" stroke-width="2"/>
<line x1="548.1" y1="249.1" x2="556.4" y2="254.4" stroke="#1a1a1a" stroke-width="2.6"/>
<line x1="548.1" y1="249.1" x2="556.4" y2="254.4" stroke="#c8c8c8" stroke-width="1.2"/>
<path d="M533.4 250.1 L550.1 271.7 L542.6 282.4 Q535.3 272.0 530.0 257.0 Z" fill="#c6c6c6" stroke="#161616" stroke-width="1"/>
<path d="M530.0 257.0 Q535.3 272.0 542.6 282.4" fill="none" stroke="#0e0e0e" stroke-width="2.2"/>
<path d="M528.9 258.7 L540.4 284.9 L530.9 293.0 Q525.8 280.9 524.3 264.2 Z" fill="#c6c6c6" stroke="#161616" stroke-width="1"/>
<path d="M524.3 264.2 Q525.8 280.9 530.9 293.0" fill="none" stroke="#0e0e0e" stroke-width="2.2"/>
<path d="M523.0 265.4 L528.2 294.7 L517.2 299.7 Q514.6 286.8 517.3 269.2 Z" fill="#c6c6c6" stroke="#161616" stroke-width="1"/>
<path d="M517.3 269.2 Q514.6 286.8 517.2 299.7" fill="none" stroke="#0e0e0e" stroke-width="2.2"/>
<path d="M515.8 270.0 L514.2 300.6 L502.4 302.3 Q502.4 289.2 509.5 271.8 Z" fill="#c6c6c6" stroke="#161616" stroke-width="1"/>
<path d="M509.5 271.8 Q502.4 289.2 502.4 302.3" fill="none" stroke="#0e0e0e" stroke-width="2.2"/>
<path d="M507.8 272.0 L499.2 302.3 L487.2 300.5 Q489.9 288.0 501.2 271.9 Z" fill="#c6c6c6" stroke="#161616" stroke-width="1"/>
<path d="M501.2 271.9 Q489.9 288.0 487.2 300.5" fill="none" stroke="#0e0e0e" stroke-width="2.2"/>
<path d="M499.9 271.6 L484.5 302.1 L474.7 298.2 Q477.2 282.9 492.5 269.1 Z" fill="#c6c6c6" stroke="#161616" stroke-width="1"/>
<path d="M492.5 269.1 Q477.2 282.9 474.7 298.2" fill="none" stroke="#0e0e0e" stroke-width="2.2"/>
<path d="M491.7 268.7 L469.7 295.3 L460.8 288.7 Q466.2 274.8 484.8 264.0 Z" fill="#c6c6c6" stroke="#161616" stroke-width="1"/>
<path d="M484.8 264.0 Q466.2 274.8 460.8 288.7" fill="none" stroke="#0e0e0e" stroke-width="2.2"/>
<path d="M484.1 263.4 L456.4 284.5 L448.9 275.7 Q457.1 264.0 478.1 256.8 Z" fill="#c6c6c6" stroke="#161616" stroke-width="1"/>
<path d="M478.1 256.8 Q457.1 264.0 448.9 275.7" fill="none" stroke="#0e0e0e" stroke-width="2.2"/>
<path d="M477.5 256.0 L445.4 270.4 L439.9 259.8 Q450.3 251.0 472.8 247.8 Z" fill="#c6c6c6" stroke="#161616" stroke-width="1"/>
<path d="M472.8 247.8 Q450.3 251.0 439.9 259.8" fill="none" stroke="#0e0e0e" stroke-width="2.2"/>
<path d="M472.4 246.9 L437.5 253.8 L434.2 242.1 Q446.2 236.7 469.2 237.7 Z" fill="#c6c6c6" stroke="#161616" stroke-width="1"/>
<path d="M469.2 237.7 Q446.2 236.7 434.2 242.1" fill="none" stroke="#0e0e0e" stroke-width="2.2"/>
<path d="M469.0 236.7 L433.0 235.7 L432.1 223.6 Q445.1 221.8 467.5 227.0 Z" fill="#c6c6c6" stroke="#161616" stroke-width="1"/>
<path d="M467.5 227.0 Q445.1 221.8 432.1 223.6" fill="none" stroke="#0e0e0e" stroke-width="2.2"/>
<path d="M467.5 226.0 L432.2 217.1 L433.8 205.3 Q447.0 207.3 467.8 216.4 Z" fill="#c6c6c6" stroke="#161616" stroke-width="1"/>
<path d="M467.8 216.4 Q447.0 207.3 433.8 205.3" fill="none" stroke="#0e0e0e" stroke-width="2.2"/>
<path d="M468.0 215.3 L435.2 199.1 L439.1 188.2 Q451.7 193.9 470.1 206.3 Z" fill="#c6c6c6" stroke="#161616" stroke-width="1"/>
<path d="M470.1 206.3 Q451.7 193.9 439.1 188.2" fill="none" stroke="#0e0e0e" stroke-width="2.2"/>
<path d="M470.5 205.4 L441.8 182.8 L447.9 173.5 Q459.2 182.5 474.3 197.5 Z" fill="#c6c6c6" stroke="#161616" stroke-width="1"/>
<path d="M474.3 197.5 Q459.2 182.5 447.9 173.5" fill="none" stroke="#0e0e0e" stroke-width="2.2"/>
<path d="M474.8 196.8 L451.6 169.0 L459.5 161.9 Q468.8 173.7 480.0 190.5 Z" fill="#c6c6c6" stroke="#161616" stroke-width="1"/>
<path d="M480.0 190.5 Q468.8 173.7 459.5 161.9" fill="none" stroke="#0e0e0e" stroke-width="2.2"/>
<path d="M480.7 189.9 L464.1 158.7 L473.2 154.1 Q480.0 168.0 487.1 185.6 Z" fill="#c6c6c6" stroke="#161616" stroke-width="1"/>
<path d="M487.1 185.6 Q480.0 168.0 473.2 154.1" fill="none" stroke="#0e0e0e" stroke-width="2.2"/>
<path d="M488.2 185.0 L479.8 154.4 L491.6 152.7 Q491.6 165.8 494.5 183.2 Z" fill="#c6c6c6" stroke="#161616" stroke-width="1"/>
<path d="M494.5 183.2 Q491.6 165.8 491.6 152.7" fill="none" stroke="#0e0e0e" stroke-width="2.2"/>
<path d="M496.2 183.0 L494.8 152.7 L506.8 154.5 Q504.1 167.0 502.8 183.1 Z" fill="#c6c6c6" stroke="#161616" stroke-width="1"/>
<path d="M502.8 183.1 Q504.1 167.0 506.8 154.5" fill="none" stroke="#0e0e0e" stroke-width="2.2"/>
<path d="M504.8 188.1 L508.8 167.6 L516.1 170.6 Q515.7 178.5 509.6 189.8 Z" fill="#c0c0c0" stroke="#161616" stroke-width="0.9"/>
<path d="M509.6 189.8 Q515.7 178.5 516.1 170.6" fill="none" stroke="#0e0e0e" stroke-width="2"/>
<line x1="508.8" y1="167.6" x2="511.1" y2="156.7" stroke="#1a1a1a" stroke-width="2.6"/>
<line x1="508.8" y1="167.6" x2="511.1" y2="156.7" stroke="#c8c8c8" stroke-width="1.2"/>
<path d="M512.1 191.1 L519.9 172.8 L526.6 178.0 Q524.8 185.3 516.6 194.1 Z" fill="#c0c0c0" stroke="#161616" stroke-width="0.9"/>
<path d="M516.6 194.1 Q524.8 185.3 526.6 178.0" fill="none" stroke="#0e0e0e" stroke-width="2"/>
<line x1="519.9" y1="172.8" x2="524.2" y2="163.2" stroke="#1a1a1a" stroke-width="2.6"/>
<line x1="519.9" y1="172.8" x2="524.2" y2="163.2" stroke="#c8c8c8" stroke-width="1.2"/>
<path d="M518.9 196.1 L530.0 181.2 L535.7 188.2 Q532.5 194.5 522.7 200.4 Z" fill="#c0c0c0" stroke="#161616" stroke-width="0.9"/>
<path d="M522.7 200.4 Q532.5 194.5 535.7 188.2" fill="none" stroke="#0e0e0e" stroke-width="2"/>
<line x1="530.0" y1="181.2" x2="536.0" y2="173.4" stroke="#1a1a1a" stroke-width="2.6"/>
<line x1="530.0" y1="181.2" x2="536.0" y2="173.4" stroke="#c8c8c8" stroke-width="1.2"/>
<path d="M524.6 202.9 L538.4 192.3 L542.8 200.7 Q538.4 205.7 527.6 208.2 Z" fill="#c0c0c0" stroke="#161616" stroke-width="0.9"/>
<path d="M527.6 208.2 Q538.4 205.7 542.8 200.7" fill="none" stroke="#0e0e0e" stroke-width="2"/>
<line x1="538.4" y1="192.3" x2="545.9" y2="186.8" stroke="#1a1a1a" stroke-width="2.6"/>
<line x1="538.4" y1="192.3" x2="545.9" y2="186.8" stroke="#c8c8c8" stroke-width="1.2"/>
<path d="M529.0 211.2 L544.7 205.4 L547.5 214.7 Q542.3 218.1 531.1 217.1 Z" fill="#c0c0c0" stroke="#161616" stroke-width="0.9"/>
<path d="M531.1 217.1 Q542.3 218.1 547.5 214.7" fill="none" stroke="#0e0e0e" stroke-width="2"/>
<line x1="544.7" y1="205.4" x2="553.2" y2="202.5" stroke="#1a1a1a" stroke-width="2.6"/>
<line x1="544.7" y1="205.4" x2="553.2" y2="202.5" stroke="#c8c8c8" stroke-width="1.2"/>
<ellipse cx="496" cy="226.3" rx="24" ry="31.3" transform="rotate(-3 496 226.3)" fill="#c2c2c2" stroke="#1e1e1e" stroke-width="1.2"/>
<path transform="translate(497 228) scale(0.9) translate(-497 -228)" d="M484 213 C488 208 496 211 500 209 C506 207 514 212 513 219 C517 224 517 234 513 237 C515 244 509 250 502 247 C496 250 487 250 485 243 C480 240 479 232 481 227 C478 221 480 215 484 213 Z" fill="#bfe5f0" stroke="#1e1e1e" stroke-width="1.1"/>
<ellipse cx="480" cy="197" rx="5.4" ry="7.8" transform="rotate(12 480 197)" fill="#bfe5f0" stroke="#1e1e1e" stroke-width="1"/>
<ellipse cx="515.3" cy="256.4" rx="6.8" ry="6.5" fill="#bfe5f0" stroke="#1e1e1e" stroke-width="1"/>
<path d="M570.6 172.8 L570.6 167.8 L570.9 162.8 L571.5 157.9 L572.3 153.2 L573.3 148.6 L574.6 144.1 L576.2 139.8 L577.9 135.8 L579.9 131.9 L582.1 128.3 L584.5 125.0 L587.1 122.0 L589.8 119.2 L592.8 116.8 L595.8 114.7 L599.0 112.9 L602.4 111.4 L605.8 110.3 L609.3 109.5 L629.5 106.3 L633.0 106.0 L636.7 105.9 L640.3 106.2 L644.0 106.9 L647.7 107.9 L651.3 109.3 L654.9 111.0 L658.5 113.1 L662.0 115.5 L665.4 118.2 L668.7 121.2 L671.8 124.5 L674.9 128.0 L677.7 131.8 L680.4 135.9 L683.0 140.1 L685.3 144.6 L687.4 149.2 L689.4 154.0 L691.0 158.9 L692.5 163.9 L693.7 168.9 L694.7 174.1 L695.5 179.2 L695.9 184.4 L696.1 189.5 L696.1 194.6 L695.8 199.6 L695.3 204.5 L694.5 209.3 L693.4 214.0 L692.1 218.5 L690.6 222.8 L688.9 226.9 L686.9 230.7 L684.7 234.3 L682.3 237.7 L679.7 240.8 L677.0 243.5 L674.1 246.0 L671.0 248.1 L667.8 249.9 L664.5 251.4 L661.0 252.5 L657.5 253.2 L654.0 253.7 L633.5 255.7 L629.9 255.7 L626.3 255.4 L622.6 254.7 L618.9 253.7 L615.3 252.3 L611.7 250.6 L608.1 248.6 L604.6 246.2 L601.2 243.6 L598.0 240.6 L594.8 237.3 L591.8 233.8 L588.9 230.0 L586.2 226.0 L583.7 221.8 L581.4 217.4 L579.2 212.8 L577.3 208.1 L575.6 203.2 L574.2 198.3 L573.0 193.3 L572.0 188.2 L571.3 183.1 L570.8 177.9 Z" fill="#969696" stroke="#1e1e1e" stroke-width="1.2"/>
<ellipse cx="628.5" cy="181.6" rx="51.4" ry="74.4" transform="rotate(-12.2 628.5 181.6)" fill="none" stroke="#c8c8c8" stroke-width="2.2"/>
<ellipse cx="628.5" cy="181.6" rx="51.4" ry="74.4" transform="rotate(-12.2 628.5 181.6)" fill="none" stroke="#555" stroke-width="0.6"/>
<ellipse cx="623.2" cy="182.4" rx="51.4" ry="74.2" transform="rotate(-12.2 623.2 182.4)" fill="#8c8c8c" stroke="#1e1e1e" stroke-width="1.2"/>
<ellipse cx="625.0" cy="184.5" rx="45.2" ry="65.5" transform="rotate(-12.2 625.0 184.5)" fill="#bcbcbc" stroke="#3a3a3a" stroke-width="0.9"/>
<path d="M600 152 C603 147 609 148 612 151 C615 155 617 158 622 158 C630 158 640 165 644 175 C647 186 644 196 642 204 C641 210 646 214 649 217 C651 222 647 226 641 224 C636 222 632 218 626 217 C617 216 608 212 604 204 C600 196 602 186 603 180 C604 172 598 160 600 152 Z" fill="#8e8e8e" stroke="#161616" stroke-width="1.1"/>
<path d="M609 176 C612 170 618 168 622 170 C626 167 633 170 635 175 C640 178 640 186 637 190 C639 196 636 203 630 204 C626 208 618 208 614 204 C608 204 605 198 606 192 C603 187 605 179 609 176 Z" fill="#c2c2c2" stroke="#1a1a1a" stroke-width="1"/>
<ellipse cx="619.3" cy="188.2" rx="4.2" ry="4.8" fill="#b0b0b0" stroke="#1a1a1a" stroke-width="0.9"/>
<path d="M628 172 L638 167.5 L643 172 L643 178 L633 183 L628 178 Z" fill="#bdbdbd" stroke="#111" stroke-width="1"/>
<ellipse cx="640" cy="172.5" rx="3" ry="4.5" fill="#d0d0d0" stroke="#111" stroke-width="0.9"/>
<path d="M603 196 L609 193 L612 197 L612 205 L606 207 L603 203 Z" fill="#bdbdbd" stroke="#111" stroke-width="1"/>
<path d="M604.5 114.5 L611.5 113.5 L612 125 L605 126 Z" fill="#d0d0d0" stroke="#333" stroke-width="0.8"/>
<path d="M638 121 L648 124 L654 136 L654 146 L645 144 L640 132 Z" fill="#c4c4c4" stroke="#333" stroke-width="0.8"/>
<path d="M568.5 166 L577 165.5 L578 185.5 L569.5 186 Z" fill="#cacaca" stroke="#333" stroke-width="0.8"/>
<path d="M645.5 243 L659 239.5 L661.5 250 L658 256.7 L647 257.5 Z" fill="#c8c8c8" stroke="#333" stroke-width="0.8"/>
<path d="M440 53 C446 48 450 44 456 41 C466 38 478 39 486 36.3 C492 33 496 30 500 29.7 C506 28.5 511 28.5 515 31.5 C518.5 35 519.3 40 519.5 44 L520.3 50" fill="none" stroke="#2a2a2a" stroke-width="3.6"/>
<path d="M440 53 C446 48 450 44 456 41 C466 38 478 39 486 36.3 C492 33 496 30 500 29.7 C506 28.5 511 28.5 515 31.5 C518.5 35 519.3 40 519.5 44 L520.3 50" fill="none" stroke="#7a7a7a" stroke-width="1.6"/>
<path d="M412 64.5 L434 51 L440 54 L442 59.5 L424 70.5 L437 79 L439 83.5 L431 89.5 L426 88.5 L418 77.5 L415 71.5 Z" fill="#6e6e6e" stroke="#111" stroke-width="1.3"/>
<path d="M416 70 L436 58.5" stroke="#8c8c8c" stroke-width="1"/>
<path d="M424 75 L434 73 L438 83 L431 88.5 L427 87.5 Z" fill="#555" stroke="#111" stroke-width="0.9"/>
<path d="M428 80 L433 78 M430 84 L435 82" stroke="#ccc" stroke-width="0.9"/>
<path d="M493 48.6 L496.7 45.8 L513.7 44.8 L519.3 49.5 L531.6 64.6 L537.3 68.4 L542.9 76.9 L537.3 79.7 L527.8 83.5 L520.3 87.3 L515.6 91 L513.7 98.6 L510.8 102.4 L506 103.3 L503.3 96.7 L497 70 L493 53.3 Z" fill="#8a8a8a" stroke="#161616" stroke-width="1.2"/>
<path d="M519.3 49.5 L510 56 L515 70 L522 80 L527.8 83.5" fill="none" stroke="#555" stroke-width="1"/>
<path d="M510 56 L505 60 L509 75 L515 85" fill="none" stroke="#bdbdbd" stroke-width="1.2"/>
<path d="M519.3 49.5 L531.6 64.6 L537.3 68.4 L542.9 76.9 L537.3 79.7 L527 72 L520 60 Z" fill="#7e7e7e" stroke="#333" stroke-width="0.7"/>
<path d="M504 85 L515 88 L513.7 98.6 L510.8 102.4 L506 103.3 L503.3 96.7 Z" fill="#5a5a5a" stroke="#222" stroke-width="0.7"/>
<path d="M480.7 69.3 L486.3 63.7 L496 62.5 L503 66 L503.5 93 L497 96.5 L485 97 L481 94 Z" fill="#b3b3b3" stroke="#1a1a1a" stroke-width="1.1"/>
<path d="M486.3 63.7 L487 95.5" stroke="#888" stroke-width="0.8"/>
<path d="M497 63 L503 66 L505 90 L499 93 Z" fill="#d6d6d6" stroke="#333" stroke-width="0.7"/>
<path d="M498.5 76 L502 75 L503 84 L499 85 Z" fill="#1a1a1a"/>
<circle cx="515.6" cy="59.9" r="2.4" fill="#9a9a9a" stroke="#1a1a1a" stroke-width="0.9"/>
<circle cx="529.7" cy="74" r="2.4" fill="#9a9a9a" stroke="#1a1a1a" stroke-width="0.9"/>
<path d="M518.4 87 C524 89 528 91 532 93 C540 97 546 100 551 104.5" fill="none" stroke="#333" stroke-width="2.2"/>
<path d="M518.4 87 C524 89 528 91 532 93 C540 97 546 100 551 104.5" fill="none" stroke="#e0e0e0" stroke-width="0.9"/>
<path d="M551.4 105 L559 103.3 L562.7 109 L556 112.7 L552 110.5 Z" fill="#e6e6e6" stroke="#111" stroke-width="1"/>
<path d="M555 106.5 L558 105.8 L559.5 109 L556.5 110 Z" fill="#333"/>
<path d="M447.5 96 L451 92.8 L456 93.3 L458.5 97.5 L455.5 103.5 L450 104.5 L447 100.5 Z" fill="#1e1e1e"/>
<circle cx="452.5" cy="98.5" r="1.6" fill="#999"/>
<path d="M456 96 L466.5 92.5 L468 97.5 L457.5 101 Z" fill="#262626"/>
<path d="M459 95 L459.5 100 M462 94 L462.5 99 M465 93 L465.5 98" stroke="#666" stroke-width="0.7"/>
<path d="M49 446 L61.6 443.2 L62.6 447.8 L51.3 452 Z" fill="#1c1c1c"/>
<path d="M39.5 447 L43 443.8 L48.5 443.6 L51.5 447.5 L51 454.5 L47 457.6 L41.5 457 L38.8 452.5 Z" fill="#161616"/>
<circle cx="45" cy="449.5" r="2.2" fill="#9a9a9a"/>
<circle cx="42" cy="453" r="1.2" fill="#bbb"/>
<line x1="63" y1="444.2" x2="214" y2="396" stroke="#333" stroke-width="1" stroke-dasharray="7 3 2 3"/>
<path d="M278 418.8 L290.3 415.8 L291.5 420 L279.5 423.6 Z" fill="#1c1c1c"/>
<path d="M270 419 L273.5 416.2 L278.5 416.5 L280.5 420.5 L280 426.5 L276.5 429.4 L271.5 428.8 L269.2 424.5 Z" fill="#161616"/>
<circle cx="274.5" cy="421.5" r="2.2" fill="#9a9a9a"/>
<circle cx="272" cy="425" r="1.1" fill="#bbb"/>
<path d="M86 233.8 L89 233.8 L89 246.9 L86.1 246.9 L86.1 238.6 C85 239.6 83.6 240.2 82.3 240.5 L82.3 237.7 C84 237.1 85.3 235.8 86 233.8 Z" fill="#111"/>
<text transform="translate(201.5 132.20000000000002) scale(0.93 1)" x="0" y="0" text-anchor="middle" font-family="Liberation Sans, sans-serif" font-weight="bold" font-size="20" fill="#111">2</text>
<text transform="translate(292.3 141.9) scale(0.93 1)" x="0" y="0" text-anchor="middle" font-family="Liberation Sans, sans-serif" font-weight="bold" font-size="20" fill="#111">3</text>
<text transform="translate(335.2 127.0) scale(0.93 1)" x="0" y="0" text-anchor="middle" font-family="Liberation Sans, sans-serif" font-weight="bold" font-size="20" fill="#111">4</text>
<text transform="translate(361.6 343.2) scale(0.93 1)" x="0" y="0" text-anchor="middle" font-family="Liberation Sans, sans-serif" font-weight="bold" font-size="20" fill="#111">5</text>
<text transform="translate(411.6 343.2) scale(0.93 1)" x="0" y="0" text-anchor="middle" font-family="Liberation Sans, sans-serif" font-weight="bold" font-size="20" fill="#111">6</text>
<text transform="translate(522.2 355.3) scale(0.93 1)" x="0" y="0" text-anchor="middle" font-family="Liberation Sans, sans-serif" font-weight="bold" font-size="20" fill="#111">7</text>
<text transform="translate(638.5 316.0) scale(0.93 1)" x="0" y="0" text-anchor="middle" font-family="Liberation Sans, sans-serif" font-weight="bold" font-size="20" fill="#111">8</text>
<text transform="translate(584.5 61.3) scale(0.93 1)" x="0" y="0" text-anchor="middle" font-family="Liberation Sans, sans-serif" font-weight="bold" font-size="20" fill="#111">9</text>
<line x1="86.5" y1="248" x2="72" y2="287" stroke="#222" stroke-width="0.9"/>
<line x1="202" y1="134.5" x2="195.6" y2="174.5" stroke="#222" stroke-width="0.9"/>
<line x1="294" y1="143" x2="283.6" y2="171" stroke="#222" stroke-width="0.9"/>
<line x1="336.6" y1="127.5" x2="327.7" y2="168" stroke="#222" stroke-width="0.9"/>
<line x1="356.8" y1="285.5" x2="363.4" y2="326.6" stroke="#222" stroke-width="0.9"/>
<line x1="401.8" y1="282.7" x2="415.6" y2="328" stroke="#222" stroke-width="0.9"/>
<line x1="522.4" y1="302" x2="526.7" y2="339.5" stroke="#222" stroke-width="0.9"/>
<line x1="642" y1="259" x2="641.6" y2="300" stroke="#222" stroke-width="0.9"/>
<line x1="580" y1="54.5" x2="537.5" y2="65.5" stroke="#222" stroke-width="0.9"/>
</svg>
</body></html>
